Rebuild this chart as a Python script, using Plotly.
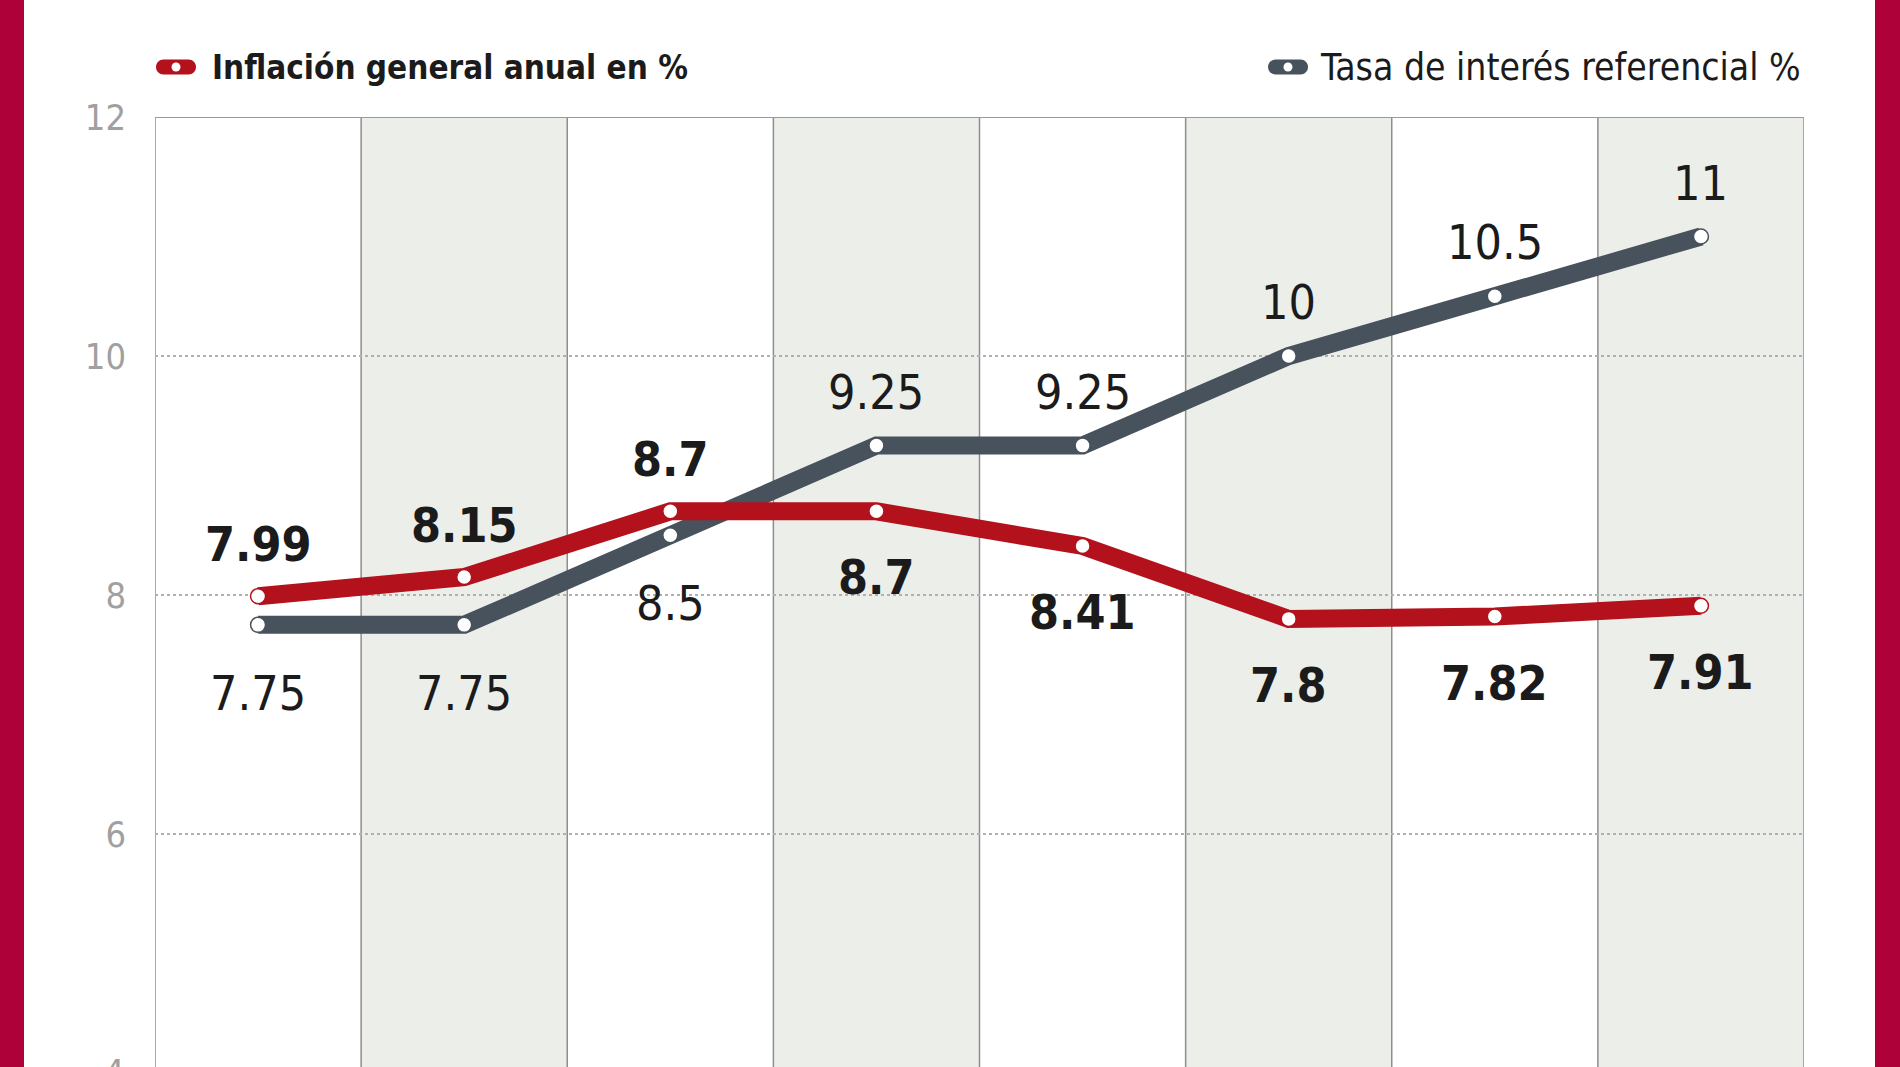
import plotly.graph_objects as go

# ---------------- data ----------------
months = ["Jun 2022", "Jul", "Ago", "Sep", "Oct", "Nov", "Dic", "Ene 2023"]
inflacion = [7.99, 8.15, 8.7, 8.7, 8.41, 7.8, 7.82, 7.91]
tasa = [7.75, 7.75, 8.5, 9.25, 9.25, 10, 10.5, 11]
inflacion_side = ["above", "above", "above", "below", "below", "below", "below", "below"]
tasa_side = ["below", "below", "below", "above", "above", "above", "above", "above"]
y_ticks = [4, 6, 8, 10, 12]
name_inf = "Inflación general anual en %"
name_tasa = "Tasa de interés referencial %"

# ---------------- style ----------------
W, H = 1900, 1067
ML, MR, MT, MB = 155, 96, 117, 0
PW, PH = W - ML - MR, H - MT - MB
Y_RANGE = [4.05, 12]
RED = "#B3111C"
GRAY = "#47525C"
FRAME = "#AE0039"
SHADE = "#ECEEEA"
VLINE = "#8e8e8e"
FONT = "Liberation Sans Narrow, DejaVu Sans Condensed, Arial Narrow, sans-serif"
TXT = "#1b1b1b"
LINE_W = 18
MARK = 15


def px_x(p):
    return (p - ML) / PW


def px_y(p):
    return 1 - (p - MT) / PH


x = list(range(len(months)))

fig = go.Figure()
fig.add_trace(go.Scatter(
    x=x, y=tasa, mode="lines+markers", name=name_tasa,
    line=dict(color=GRAY, width=LINE_W),
    marker=dict(size=MARK, color="white", line=dict(color=GRAY, width=1.5)),
    hoverinfo="skip"))
fig.add_trace(go.Scatter(
    x=x, y=inflacion, mode="lines+markers", name=name_inf,
    line=dict(color=RED, width=LINE_W),
    marker=dict(size=MARK, color="white", line=dict(color=RED, width=1.5)),
    hoverinfo="skip"))

# value labels
for i, (v, s) in enumerate(zip(inflacion, inflacion_side)):
    fig.add_annotation(x=x[i], y=v, text=f"{v:g}", showarrow=False,
                       yshift=52 if s == "above" else -66,
                       font=dict(size=48, color=TXT, family=FONT, weight="bold"))
for i, (v, s) in enumerate(zip(tasa, tasa_side)):
    fig.add_annotation(x=x[i], y=v, text=f"{v:g}", showarrow=False,
                       yshift=54 if s == "above" else -68,
                       font=dict(size=48, color=TXT, family=FONT))

# tick labels that fall below the visible range (partially cut, as in the original)
for t in y_ticks:
    if t < Y_RANGE[0]:
        fig.add_annotation(xref="paper", yref="paper", x=0, xanchor="right", xshift=-28,
                           y=(t - Y_RANGE[0]) / (Y_RANGE[1] - Y_RANGE[0]), yanchor="middle",
                           text=str(t), showarrow=False,
                           font=dict(size=36, color="#a0a0a0", family=FONT))

# custom legend texts
legend_y = px_y(67)
fig.add_annotation(xref="paper", yref="paper", x=px_x(210), xanchor="left", y=legend_y,
                   yanchor="middle", text=name_inf, showarrow=False,
                   font=dict(size=33, color=TXT, family=FONT, weight="bold"))
fig.add_annotation(xref="paper", yref="paper", x=px_x(1803), xanchor="right", y=legend_y,
                   yanchor="middle", text=name_tasa, showarrow=False,
                   font=dict(size=37, color=TXT, family=FONT))

shapes = []
# alternating column shading
for i in x:
    if i % 2 == 1:
        shapes.append(dict(type="rect", xref="x", yref="paper", x0=i - 0.5, x1=i + 0.5,
                           y0=0, y1=1, fillcolor=SHADE, line=dict(width=0), layer="below"))
# column separators
for i in range(len(x) + 1):
    shapes.append(dict(type="line", xref="x", yref="paper", x0=i - 0.5, x1=i - 0.5,
                       y0=0, y1=1, line=dict(color=VLINE, width=1.5), layer="below"))
# top border
shapes.append(dict(type="line", xref="paper", yref="y", x0=0, x1=1, y0=Y_RANGE[1], y1=Y_RANGE[1],
                   line=dict(color="#9a9a9a", width=2), layer="below"))
# crimson frame
shapes.append(dict(type="rect", xref="paper", yref="paper", x0=px_x(-5), x1=px_x(24),
                   y0=-0.1, y1=1.3, fillcolor=FRAME, line=dict(width=0), layer="above"))
shapes.append(dict(type="rect", xref="paper", yref="paper", x0=px_x(1875), x1=px_x(1905),
                   y0=-0.1, y1=1.3, fillcolor=FRAME, line=dict(width=0), layer="above"))

# legend pills
hw, hh = 20, 7.5
k = 0.5523 * hh
c = hw - hh
pill = (f"M {-c},{-hh} L {c},{-hh} C {c + k},{-hh} {hw},{-k} {hw},0 "
        f"C {hw},{k} {c + k},{hh} {c},{hh} L {-c},{hh} "
        f"C {-c - k},{hh} {-hw},{k} {-hw},0 C {-hw},{-k} {-c - k},{-hh} {-c},{-hh} Z")
for cx, col in [(176, RED), (1288, GRAY)]:
    shapes.append(dict(type="path", xref="paper", yref="paper", xsizemode="pixel",
                       ysizemode="pixel", xanchor=px_x(cx), yanchor=legend_y, path=pill,
                       fillcolor=col, line=dict(width=0), layer="above"))
    shapes.append(dict(type="circle", xref="paper", yref="paper", xsizemode="pixel",
                       ysizemode="pixel", xanchor=px_x(cx), yanchor=legend_y,
                       x0=-4.5, x1=4.5, y0=-4.5, y1=4.5,
                       fillcolor="white", line=dict(width=0), layer="above"))

fig.update_layout(
    width=W, height=H,
    margin=dict(l=ML, r=MR, t=MT, b=MB, pad=0),
    paper_bgcolor="white", plot_bgcolor="white",
    shapes=shapes,
    showlegend=False,
    xaxis=dict(range=[-0.5, len(x) - 0.5], tickvals=x, ticktext=months,
               showticklabels=False, showgrid=False, zeroline=False, showline=False),
    yaxis=dict(range=Y_RANGE, tickvals=y_ticks, showgrid=True, gridcolor="#b0b0b0",
               griddash="dot", gridwidth=1.5, zeroline=False, showline=False,
               ticks="", ticklabelstandoff=28,
               tickfont=dict(size=36, color="#a0a0a0", family=FONT)),
)

fig.write_html("out.html")
